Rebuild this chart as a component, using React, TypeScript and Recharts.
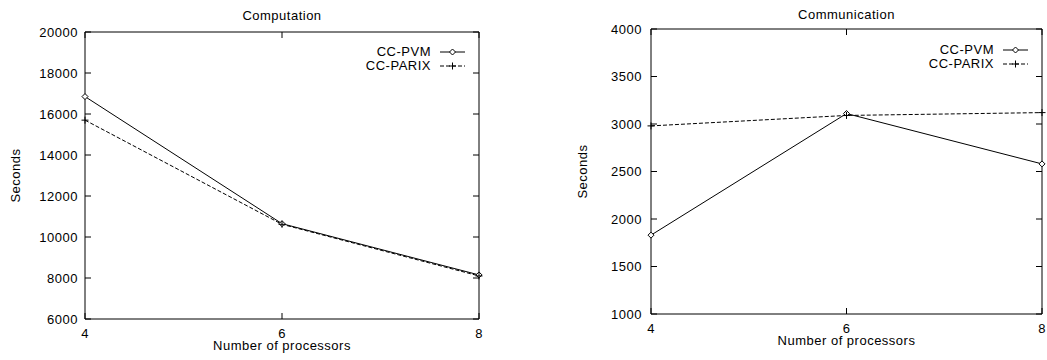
import React from 'react';
import { LineChart, Line, XAxis, YAxis, Legend } from 'recharts';

const processors = [4, 6, 8];
const computationPvm = [16850, 10650, 8150];
const computationParix = [15700, 10620, 8100];
const communicationPvm = [1830, 3110, 2580];
const communicationParix = [2980, 3090, 3120];

const computationTicks = [6000, 8000, 10000, 12000, 14000, 16000, 18000, 20000];
const communicationTicks = [1000, 1500, 2000, 2500, 3000, 3500, 4000];
const xTicks = [4, 6, 8];

const seriesNames = ['CC-PVM', 'CC-PARIX'];

const FONT = 'Liberation Sans, Arial, Helvetica, sans-serif';
const textStyle = { fill: '#000', fontSize: 13, fontFamily: FONT, letterSpacing: 0.5 };
const TICK = 6;

function makeRows(pvm: number[], parix: number[]) {
  return processors.map((p, i) => ({ p, pvm: pvm[i], parix: parix[i] }));
}

function Diamond({ cx, cy }: { cx: number; cy: number }) {
  return (
    <path
      d={`M${cx},${cy - 3}L${cx + 3},${cy}L${cx},${cy + 3}L${cx - 3},${cy}Z`}
      fill="#fff"
      stroke="#000"
      strokeWidth={1}
    />
  );
}

function Plus({ cx, cy }: { cx: number; cy: number }) {
  return (
    <path d={`M${cx - 3.5},${cy}h7M${cx},${cy - 3.5}v7`} fill="none" stroke="#000" strokeWidth={1} />
  );
}

// inward ticks, gnuplot style; with tickSize 0 and tickMargin 0 the tick x/y sit on the axis line
const bottomTick = (tp: any) => (
  <g>
    <line x1={tp.x} x2={tp.x} y1={tp.y} y2={tp.y - TICK} stroke="#000" />
    <text x={tp.x} y={tp.y + 19} textAnchor="middle" {...textStyle}>
      {tp.payload.value}
    </text>
  </g>
);

const topTick = (tp: any) => <line x1={tp.x} x2={tp.x} y1={tp.y} y2={tp.y + TICK} stroke="#000" />;

const leftTick = (gap: number) => (tp: any) => (
  <g>
    <line x1={tp.x} x2={tp.x + TICK} y1={tp.y} y2={tp.y} stroke="#000" />
    <text x={tp.x - gap} y={tp.y} dy="0.36em" textAnchor="end" {...textStyle}>
      {tp.payload.value}
    </text>
  </g>
);

const rightTick = (tp: any) => <line x1={tp.x} x2={tp.x - TICK} y1={tp.y} y2={tp.y} stroke="#000" />;

function LegendBox() {
  return (
    <div style={{ display: 'flex', flexDirection: 'column', alignItems: 'flex-end' }}>
      {seriesNames.map((name, i) => (
        <div key={name} style={{ display: 'flex', alignItems: 'center', height: 14 }}>
          <span style={{ fontFamily: FONT, fontSize: 13, letterSpacing: 0.5, color: '#000', lineHeight: '14px' }}>
            {name}
          </span>
          <svg width={39} height={14}>
            <line
              x1={9}
              x2={34}
              y1={7}
              y2={7}
              stroke="#000"
              strokeWidth={1}
              strokeDasharray={i === 1 ? '4 2' : undefined}
            />
            {i === 0 ? <Diamond cx={21.5} cy={7} /> : <Plus cx={21.5} cy={7} />}
          </svg>
        </div>
      ))}
    </div>
  );
}

interface PanelProps {
  title: string;
  rows: { p: number; pvm: number; parix: number }[];
  yDomain: [number, number];
  yTicks: number[];
  width: number;
  margin: { top: number; right: number; bottom: number; left: number };
  yWidth: number;
  xHeight: number;
  ylabelX: number;
  labelGap: number;
  titleDy: number;
  legendStyle: React.CSSProperties;
}

function Panel(props: PanelProps) {
  const { title, rows, yDomain, yTicks, width, margin, yWidth, xHeight, ylabelX, labelGap, titleDy, legendStyle } = props;
  return (
    <LineChart width={width} height={360} data={rows} margin={margin}>
      <XAxis
        xAxisId="b"
        dataKey="p"
        type="number"
        domain={[4, 8]}
        ticks={xTicks}
        height={xHeight}
        tickSize={0}
        tickMargin={0}
        tickLine={false}
        axisLine={{ stroke: '#000' }}
        tick={bottomTick}
        label={(lp: any) => {
          const vb = lp.viewBox;
          return (
            <text x={vb.x + vb.width / 2} y={vb.y + 31} textAnchor="middle" {...textStyle}>
              Number of processors
            </text>
          );
        }}
      />
      <XAxis
        xAxisId="t"
        dataKey="p"
        orientation="top"
        type="number"
        domain={[4, 8]}
        allowDataOverflow
        ticks={xTicks}
        height={1}
        tickSize={0}
        tickMargin={0}
        tickLine={false}
        axisLine={{ stroke: '#000' }}
        tick={topTick}
        label={(lp: any) => {
          const vb = lp.viewBox;
          return (
            <text x={vb.x + vb.width / 2} y={vb.y + vb.height + titleDy} textAnchor="middle" {...textStyle}>
              {title}
            </text>
          );
        }}
      />
      <YAxis
        yAxisId="l"
        type="number"
        domain={yDomain}
        ticks={yTicks}
        width={yWidth}
        tickSize={0}
        tickMargin={0}
        tickLine={false}
        axisLine={{ stroke: '#000' }}
        tick={leftTick(labelGap)}
        label={(lp: any) => {
          const vb = lp.viewBox;
          const cy = vb.y + vb.height / 2;
          return (
            <text
              x={vb.x + ylabelX}
              y={cy}
              transform={`rotate(-90 ${vb.x + ylabelX} ${cy})`}
              textAnchor="middle"
              dy="0.36em"
              {...textStyle}
            >
              Seconds
            </text>
          );
        }}
      />
      <YAxis
        yAxisId="r"
        orientation="right"
        type="number"
        domain={yDomain}
        allowDataOverflow
        ticks={yTicks}
        width={1}
        tickSize={0}
        tickMargin={0}
        tickLine={false}
        axisLine={{ stroke: '#000' }}
        tick={rightTick}
      />
      <Legend
        layout="horizontal"
        verticalAlign="middle"
        align="center"
        content={() => <LegendBox />}
        wrapperStyle={legendStyle}
      />
      <Line
        xAxisId="b"
        yAxisId="l"
        type="linear"
        dataKey="pvm"
        name={seriesNames[0]}
        stroke="#000"
        strokeWidth={1}
        dot={(d: any) => <Diamond key={`pvm-${d.index}`} cx={d.cx} cy={d.cy} />}
        activeDot={false}
        isAnimationActive={false}
      />
      <Line
        xAxisId="b"
        yAxisId="l"
        type="linear"
        dataKey="parix"
        name={seriesNames[1]}
        stroke="#000"
        strokeWidth={1}
        strokeDasharray="4 2"
        dot={(d: any) => <Plus key={`parix-${d.index}`} cx={d.cx} cy={d.cy} />}
        activeDot={false}
        isAnimationActive={false}
      />
    </LineChart>
  );
}

export default function App() {
  return (
    <div style={{ position: 'absolute', left: 0, top: 0, width: 1047, height: 360, background: '#fff' }}>
      <div style={{ position: 'absolute', left: 0, top: 0 }}>
        <Panel
          title="Computation"
          rows={makeRows(computationPvm, computationParix)}
          yDomain={[6000, 20000]}
          yTicks={computationTicks}
          width={520}
          margin={{ top: 31, right: 40, bottom: 0, left: 0 }}
          yWidth={85}
          xHeight={41}
          ylabelX={15}
          labelGap={7}
          titleDy={-12}
          legendStyle={{ left: 300, top: 45, width: 170 }}
        />
      </div>
      <div style={{ position: 'absolute', left: 530, top: 0 }}>
        <Panel
          title="Communication"
          rows={makeRows(communicationPvm, communicationParix)}
          yDomain={[1000, 4000]}
          yTicks={communicationTicks}
          width={517}
          margin={{ top: 28, right: 4, bottom: 0, left: 0 }}
          yWidth={121}
          xHeight={46}
          ylabelX={52}
          labelGap={9}
          titleDy={-10}
          legendStyle={{ left: 333, top: 43, width: 170 }}
        />
      </div>
    </div>
  );
}
